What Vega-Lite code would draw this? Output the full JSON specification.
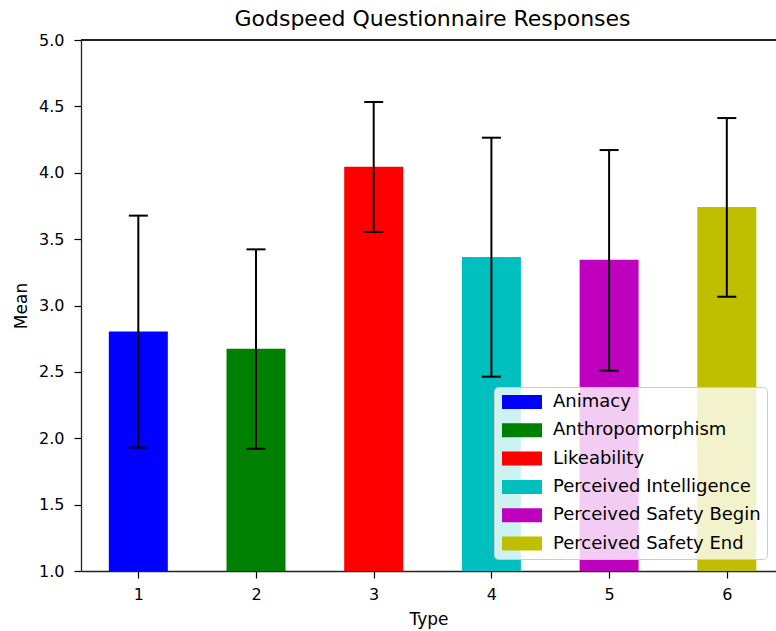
{
  "$schema": "https://vega.github.io/schema/vega-lite/v6.json",
  "autosize": "none",
  "width": 695,
  "height": 531,
  "padding": {"left": 81, "top": 40, "right": 0, "bottom": 60},
  "background": "white",
  "title": {"text": "Godspeed Questionnaire Responses", "fontSize": 22, "font": "DejaVu Sans", "fontWeight": "normal", "color": "#000000", "baseline": "bottom", "offset": -21, "dx": 4},
  "config": {
    "font": "DejaVu Sans",
    "view": {"stroke": null},
    "axis": {"labelFont": "DejaVu Sans", "titleFont": "DejaVu Sans", "labelColor": "#000000", "titleColor": "#000000", "titleFontWeight": "normal", "labelFontSize": 16, "titleFontSize": 17, "tickColor": "#000000", "tickSize": 7, "tickWidth": 1.2, "domainColor": "#222222", "domainWidth": 1.3, "grid": false, "zindex": 1}
  },
  "data": {"values": [
    {"type": 1, "category": "Animacy", "mean": 2.805, "lo": 1.93, "hi": 3.677},
    {"type": 2, "category": "Anthropomorphism", "mean": 2.675, "lo": 1.921, "hi": 3.423},
    {"type": 3, "category": "Likeability", "mean": 4.045, "lo": 3.554, "hi": 4.533},
    {"type": 4, "category": "Perceived Intelligence", "mean": 3.365, "lo": 2.464, "hi": 4.264},
    {"type": 5, "category": "Perceived Safety Begin", "mean": 3.345, "lo": 2.509, "hi": 4.171},
    {"type": 6, "category": "Perceived Safety End", "mean": 3.742, "lo": 3.066, "hi": 4.412}
  ]},
  "layer": [
    {
      "mark": {"type": "bar", "size": 59},
      "encoding": {
        "x": {"field": "type", "type": "quantitative", "scale": {"domain": [0.513, 6.418], "nice": false, "zero": false, "padding": 0}, "axis": {"values": [1, 2, 3, 4, 5, 6], "format": "d", "title": "Type", "labelPadding": 8, "titlePadding": 9}},
        "y": {"field": "mean", "type": "quantitative", "scale": {"domain": [1, 5], "nice": false, "zero": false, "padding": 0}, "axis": {"values": [1, 1.5, 2, 2.5, 3, 3.5, 4, 4.5, 5], "format": ".1f", "title": "Mean", "labelPadding": 10, "titlePadding": 8}},
        "y2": {"datum": 1},
        "color": {"field": "category", "type": "nominal",
          "scale": {"domain": ["Animacy", "Anthropomorphism", "Likeability", "Perceived Intelligence", "Perceived Safety Begin", "Perceived Safety End"], "range": ["#0000ff", "#008000", "#ff0000", "#00bfbf", "#bf00bf", "#bfbf00"]},
          "legend": {"title": null, "orient": "none", "legendX": 413, "legendY": 347, "labelFontSize": 18, "labelFont": "DejaVu Sans", "labelColor": "#000000", "labelLimit": 500, "symbolType": "M-1,-1H4.714V1H-1Z", "symbolSize": 196, "symbolStrokeWidth": 0, "symbolOpacity": 1, "rowPadding": 10.3, "padding": 6, "labelOffset": 35, "fillColor": "rgba(255,255,255,0.8)", "strokeColor": "#cccccc", "cornerRadius": 4}}
      }
    },
    {
      "mark": {"type": "rule", "color": "#000000", "strokeWidth": 2},
      "encoding": {
        "x": {"field": "type", "type": "quantitative"},
        "y": {"field": "lo", "type": "quantitative"},
        "y2": {"field": "hi"}
      }
    },
    {
      "mark": {"type": "tick", "orient": "horizontal", "color": "#000000", "size": 19, "thickness": 2, "opacity": 1},
      "encoding": {
        "x": {"field": "type", "type": "quantitative"},
        "y": {"field": "hi", "type": "quantitative"}
      }
    },
    {
      "mark": {"type": "tick", "orient": "horizontal", "color": "#000000", "size": 19, "thickness": 2, "opacity": 1},
      "encoding": {
        "x": {"field": "type", "type": "quantitative"},
        "y": {"field": "lo", "type": "quantitative"}
      }
    },
    {
      "mark": {"type": "rule", "color": "#222222", "strokeWidth": 1.3},
      "encoding": {"y": {"datum": 5}}
    }
  ]
}
